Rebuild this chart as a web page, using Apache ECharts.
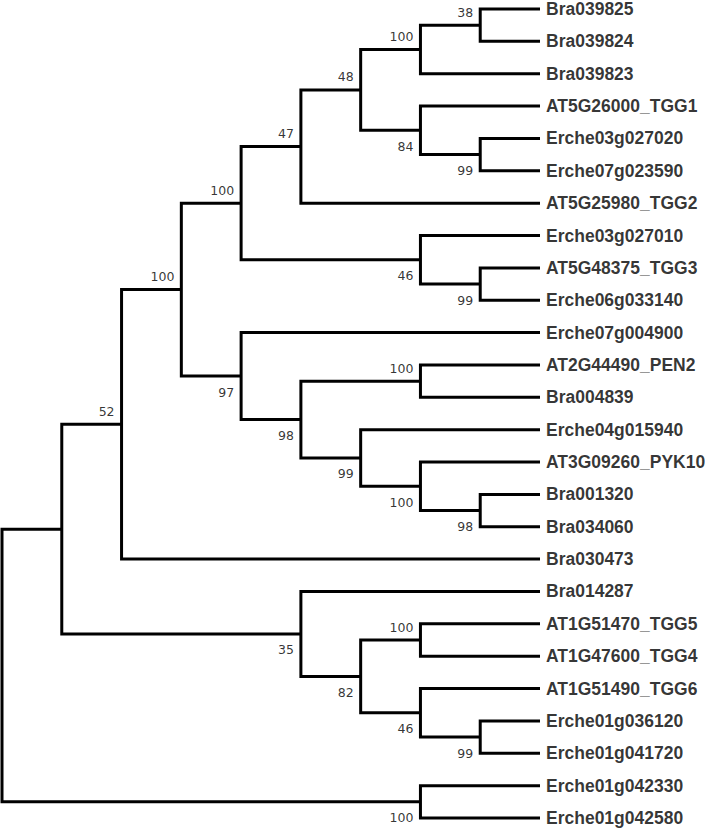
<!DOCTYPE html>
<html>
<head>
<meta charset="utf-8">
<script src="https://cdn.jsdelivr.net/npm/echarts@6/dist/echarts.min.js"></script>
<style>
  html, body { margin: 0; padding: 0; background: #fff; }
  #chart { width: 707px; height: 831px; }
</style>
</head>
<body>
<div id="chart"></div>
<script>
// leaves, top to bottom
const leafNames = [
  'Bra039825', 'Bra039824', 'Bra039823', 'AT5G26000_TGG1', 'Erche03g027020',
  'Erche07g023590', 'AT5G25980_TGG2', 'Erche03g027010', 'AT5G48375_TGG3',
  'Erche06g033140', 'Erche07g004900', 'AT2G44490_PEN2', 'Bra004839',
  'Erche04g015940', 'AT3G09260_PYK10', 'Bra001320', 'Bra034060', 'Bra030473',
  'Bra014287', 'AT1G51470_TGG5', 'AT1G47600_TGG4', 'AT1G51490_TGG6',
  'Erche01g036120', 'Erche01g041720', 'Erche01g042330', 'Erche01g042580'
];
const leafDepth = 9;

// internal nodes: id, children, depth (horizontal position), bootstrap support
const nodeIds = [
  'n38', 'n100c', 'n99a', 'n84', 'n48', 'n47', 'n99b', 'n46a', 'n100b',
  'n100d', 'n98b', 'n100e', 'n99c', 'n98a', 'n97', 'n100a', 'n52',
  'n100f', 'n99d', 'n46b', 'n82', 'n35', 'nA', 'n100g', 'root'
];
const nodeChildren = [
  ['Bra039825', 'Bra039824'],
  ['n38', 'Bra039823'],
  ['Erche03g027020', 'Erche07g023590'],
  ['AT5G26000_TGG1', 'n99a'],
  ['n100c', 'n84'],
  ['n48', 'AT5G25980_TGG2'],
  ['AT5G48375_TGG3', 'Erche06g033140'],
  ['Erche03g027010', 'n99b'],
  ['n47', 'n46a'],
  ['AT2G44490_PEN2', 'Bra004839'],
  ['Bra001320', 'Bra034060'],
  ['AT3G09260_PYK10', 'n98b'],
  ['Erche04g015940', 'n100e'],
  ['n100d', 'n99c'],
  ['Erche07g004900', 'n98a'],
  ['n100b', 'n97'],
  ['n100a', 'Bra030473'],
  ['AT1G51470_TGG5', 'AT1G47600_TGG4'],
  ['Erche01g036120', 'Erche01g041720'],
  ['AT1G51490_TGG6', 'n99d'],
  ['n100f', 'n46b'],
  ['Bra014287', 'n82'],
  ['n52', 'n35'],
  ['Erche01g042330', 'Erche01g042580'],
  ['nA', 'n100g']
];
const nodeDepth = [8, 7, 8, 7, 6, 5, 8, 7, 4, 7, 8, 7, 6, 5, 4, 3, 2, 7, 8, 7, 6, 5, 1, 7, 0];
const nodeSupport = [38, 100, 99, 84, 48, 47, 99, 46, 100, 100, 98, 100, 99, 98, 97, 100, 52,
  100, 99, 46, 82, 35, null, 100, null];

// positions: leaves by order, internal nodes at midpoint of first/last child
const pos = {};
leafNames.forEach((n, i) => { pos[n] = { x: leafDepth, y: i }; });
nodeIds.forEach((id, i) => {
  const ch = nodeChildren[i];
  pos[id] = { x: nodeDepth[i], y: (pos[ch[0]].y + pos[ch[ch.length - 1]].y) / 2 };
});

// which nodes are the upper child of their parent
const isUpper = {};
nodeChildren.forEach(ch => { ch.forEach((c, k) => { isUpper[c] = k === 0; }); });

const branchData = nodeIds.map((id, i) => {
  const ch = nodeChildren[i];
  const a = pos[ch[0]], b = pos[ch[ch.length - 1]];
  return [nodeDepth[i], a.y, b.y, a.x, b.x];
});

const supportData = [];
nodeIds.forEach((id, i) => {
  if (nodeSupport[i] == null) return;
  supportData.push({
    value: [pos[id].x, pos[id].y, nodeSupport[i]],
    label: { offset: [0, isUpper[id] ? -13 : 16] }
  });
});

const chart = echarts.init(document.getElementById('chart'), null, { renderer: 'svg' });
chart.setOption({
  animation: false,
  backgroundColor: '#fff',
  grid: { left: 2, right: 167, top: 9, bottom: 13 },
  xAxis: { type: 'value', min: 0, max: leafDepth, show: false },
  yAxis: { type: 'value', min: 0, max: leafNames.length - 1, inverse: true, show: false },
  series: [
    {
      type: 'custom',
      clip: false,
      data: branchData,
      encode: { x: [0, 3, 4], y: [1, 2] },
      renderItem: function (params, api) {
        const px = api.value(0);
        const p1 = api.coord([api.value(3), api.value(1)]);
        const p2 = api.coord([px, api.value(1)]);
        const p3 = api.coord([px, api.value(2)]);
        const p4 = api.coord([api.value(4), api.value(2)]);
        return {
          type: 'polyline',
          shape: { points: [p1, p2, p3, p4] },
          style: { stroke: '#000', lineWidth: 3, fill: null, lineJoin: 'miter', lineCap: 'butt' }
        };
      }
    },
    {
      type: 'scatter',
      symbolSize: 0,
      data: leafNames.map((n, i) => ({ name: n, value: [leafDepth, i] })),
      label: {
        show: true,
        position: 'right',
        distance: 6,
        formatter: '{b}',
        color: '#000',
        fontSize: 17.5,
        fontWeight: 'bold',
        fontFamily: 'Liberation Sans, Arial, sans-serif'
      }
    },
    {
      type: 'scatter',
      symbolSize: 0,
      data: supportData,
      label: {
        show: true,
        position: 'left',
        distance: 7,
        formatter: p => p.value[2],
        color: '#000',
        fontSize: 12.5,
        fontFamily: 'DejaVu Sans, Verdana, sans-serif'
      }
    }
  ]
});
</script>
</body>
</html>
